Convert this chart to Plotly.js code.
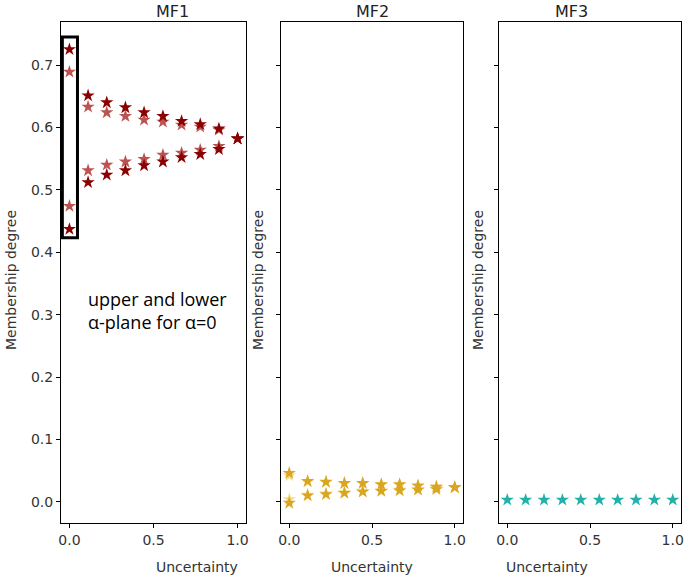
<!DOCTYPE html>
<html><head><meta charset="utf-8">
<script src="https://cdn.plot.ly/plotly-3.0.1.min.js"></script>
<style>body{margin:0;padding:0;background:#fff}#chart{width:685px;height:578px}</style>
</head><body><div id="chart"></div>
<script>
// Uncertainty levels (10 points)
const uncertainty = [0, 0.111, 0.222, 0.333, 0.444, 0.556, 0.667, 0.778, 0.889, 1.0];

// MF1: outer (dark) and inner (light) bounds
const mf1OuterUpper = [0.725, 0.651, 0.640, 0.632, 0.624, 0.618, 0.610, 0.605, 0.598, 0.582];
const mf1OuterLower = [0.437, 0.512, 0.524, 0.531, 0.539, 0.545, 0.552, 0.557, 0.565, 0.582];
const mf1InnerUpper = [0.689, 0.633, 0.624, 0.618, 0.612, 0.609, 0.604, 0.601, 0.596, 0.582];
const mf1InnerLower = [0.474, 0.531, 0.540, 0.545, 0.549, 0.556, 0.559, 0.564, 0.570, 0.582];

// MF2
const mf2OuterUpper = [0.046, 0.033, 0.032, 0.030, 0.030, 0.028, 0.028, 0.026, 0.024, 0.023];
const mf2OuterLower = [-0.002, 0.010, 0.012, 0.014, 0.016, 0.017, 0.018, 0.019, 0.020, 0.023];
const mf2InnerUpper = [0.042, 0.032, 0.031, 0.029, 0.029, 0.027, 0.027, 0.025, 0.024, 0.023];
const mf2InnerLower = [0.004, 0.011, 0.013, 0.015, 0.017, 0.018, 0.019, 0.020, 0.021, 0.023];

// MF3
const mf3Values = [0.003, 0.003, 0.003, 0.003, 0.003, 0.003, 0.003, 0.003, 0.003, 0.003];

const panelTitles = ["MF1", "MF2", "MF3"];
const xTitle = "Uncertainty";
const yTitle = "Membership degree";
const xTicks = [0, 0.5, 1.0];
const xTickText = ["0.0", "0.5", "1.0"];
const yTicks = [0, 0.1, 0.2, 0.3, 0.4, 0.5, 0.6, 0.7];
const yTickText = ["0.0", "0.1", "0.2", "0.3", "0.4", "0.5", "0.6", "0.7"];

const dark = '#8b0000', light = 'rgba(170,40,40,0.8)';
const gold = '#daa520', goldLight = 'rgba(240,205,80,0.7)';
const teal = '#20b2aa';

function pts(x, y, color, xa, ya, name) {
  return {x: x, y: y, type: 'scatter', mode: 'markers', name: name, xaxis: xa, yaxis: ya,
    marker: {symbol: 'star', size: 10, color: color, line: {width: 0}}, showlegend: false, hoverinfo: 'x+y'};
}

const data = [
  pts(uncertainty, mf1InnerUpper, light, 'x', 'y', 'MF1 inner upper'),
  pts(uncertainty, mf1InnerLower, light, 'x', 'y', 'MF1 inner lower'),
  pts(uncertainty, mf1OuterUpper, dark, 'x', 'y', 'MF1 outer upper'),
  pts(uncertainty, mf1OuterLower, dark, 'x', 'y', 'MF1 outer lower'),
  pts(uncertainty, mf2InnerUpper, goldLight, 'x2', 'y2', 'MF2 inner upper'),
  pts(uncertainty, mf2InnerLower, goldLight, 'x2', 'y2', 'MF2 inner lower'),
  pts(uncertainty, mf2OuterUpper, gold, 'x2', 'y2', 'MF2 outer upper'),
  pts(uncertainty, mf2OuterLower, gold, 'x2', 'y2', 'MF2 outer lower'),
  pts(uncertainty, mf3Values, teal, 'x3', 'y3', 'MF3')
];

const FF = 'DejaVu Sans, sans-serif';
const tfont = {family: FF, size: 14, color: '#333'};
function xa(domain, anchor) {
  return {domain: domain, anchor: anchor, range: [-0.05, 1.05], tickvals: xTicks, ticktext: xTickText,
    showline: true, mirror: true, linecolor: '#000', linewidth: 1, ticks: 'outside', ticklen: 4,
    tickcolor: '#000', showgrid: false, zeroline: false, automargin: false, tickfont: tfont};
}
function ya(domain, showLabels, anchor) {
  return {domain: domain, range: [-0.034, 0.769], tickvals: yTicks, ticktext: yTickText,
    showticklabels: showLabels, anchor: anchor,
    showline: true, mirror: true, linecolor: '#000', linewidth: 1, ticks: 'outside', ticklen: 4,
    tickcolor: '#000', showgrid: false, zeroline: false, automargin: false, tickfont: tfont};
}
const yDom = [1 - 523/578, 1 - 22/578];
const doms = [[61/685, 246/685], [281/685, 463/685], [499/685, 681/685]];
const yTitleX = [11, 258, 478];
const yMid = (yDom[0] + yDom[1]) / 2;

const annotations = [];
doms.forEach((d, i) => {
  annotations.push({text: panelTitles[i], xref: 'paper', yref: 'paper', x: (d[0]+d[1])/2, y: 1 - 12/578,
    showarrow: false, font: {family: FF, size: 16, color: '#222'}, yanchor: 'middle'});
  annotations.push({text: xTitle, xref: 'paper', yref: 'paper', x: (d[0]+d[1])/2, y: 1 - 567/578,
    showarrow: false, font: tfont, yanchor: 'middle'});
  annotations.push({text: yTitle, xref: 'paper', yref: 'paper', x: yTitleX[i]/685, y: 1 - 280/578,
    showarrow: false, font: tfont, textangle: -90, xanchor: 'center', yanchor: 'middle'});
});
annotations.push({text: 'upper and lower<br>α-plane for α=0', xref: 'x', yref: 'y', x: 0.1, y: 0.306,
  showarrow: false, xanchor: 'left', yanchor: 'middle', align: 'left',
  font: {family: 'Open Sans, sans-serif', size: 18, color: '#000'}});

const layout = {
  width: 685, height: 578, margin: {l: 0, r: 0, t: 0, b: 0},
  paper_bgcolor: '#fff', plot_bgcolor: '#fff', font: {family: FF, size: 14, color: '#333'}, showlegend: false,
  xaxis: xa(doms[0], 'y'), xaxis2: xa(doms[1], 'y2'), xaxis3: xa(doms[2], 'y3'),
  yaxis: ya(yDom, true, 'x'), yaxis2: ya(yDom, false, 'x2'), yaxis3: ya(yDom, false, 'x3'),
  shapes: [{type: 'rect', xref: 'x', yref: 'y', x0: -0.042, x1: 0.048, y0: 0.423, y1: 0.745,
    line: {color: '#000', width: 3}, fillcolor: 'rgba(0,0,0,0)'}],
  annotations: annotations
};

Plotly.newPlot('chart', data, layout, {displayModeBar: false, staticPlot: true});
</script></body></html>
